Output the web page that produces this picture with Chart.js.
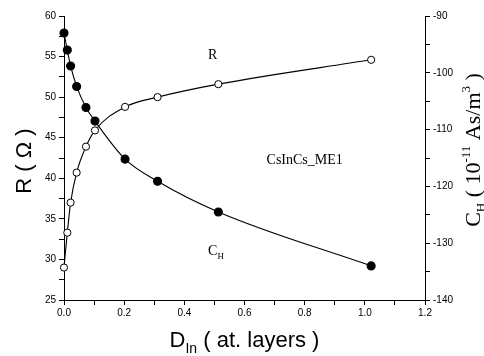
<!DOCTYPE html>
<html>
<head>
<meta charset="utf-8">
<script src="https://cdn.jsdelivr.net/npm/chart.js@4/dist/chart.umd.min.js"></script>
<style>
  html, body { margin: 0; padding: 0; background: #fff; }
  #wrap { width: 484px; height: 356px; }
</style>
</head>
<body>
<div id="wrap"><canvas id="chart" width="484" height="356"></canvas></div>
<script>
const dIn = [0, 0.011, 0.022, 0.042, 0.073, 0.103, 0.203, 0.311, 0.513, 1.021];
const rValues = [29.0, 33.3, 37.0, 40.7, 43.9, 45.9, 48.8, 50.0, 51.6, 54.6];
const cHValues = [-93.0, -96.0, -98.8, -102.4, -106.1, -108.5, -115.2, -119.1, -124.5, -134.0];

const xTicks = ['0.0', '0.2', '0.4', '0.6', '0.8', '1.0', '1.2'];
const rTicks = [25, 30, 35, 40, 45, 50, 55, 60];
const cTicks = [-140, -130, -120, -110, -100, -90];

const SANS = '"Liberation Sans", Arial, sans-serif';
const SERIF = '"Liberation Serif", "Times New Roman", serif';

const toXY = (ys) => dIn.map((x, i) => ({ x: x, y: ys[i] }));

// draws a row of text pieces (for sub/superscripts)
const drawRich = (ctx, parts, x, y, rotation, align) => {
  ctx.save();
  ctx.translate(x, y);
  ctx.rotate(rotation);
  let total = 0;
  parts.forEach((p) => {
    ctx.font = p.font;
    total += ctx.measureText(p.text).width;
  });
  let cx = align === 'center' ? -total / 2 : 0;
  ctx.fillStyle = '#000';
  ctx.textBaseline = 'alphabetic';
  ctx.textAlign = 'left';
  parts.forEach((p) => {
    ctx.font = p.font;
    ctx.fillText(p.text, cx, p.dy || 0);
    cx += ctx.measureText(p.text).width;
  });
  ctx.restore();
};

const labelsPlugin = {
  id: 'labels',
  afterDraw(chart) {
    const ctx = chart.ctx;
    const area = chart.chartArea;
    const xs = chart.scales.x;
    const ys = chart.scales.y;

    // axis titles
    drawRich(ctx, [
      { text: 'D', font: '22px ' + SANS },
      { text: 'In', font: '14px ' + SANS, dy: 6 },
      { text: ' ( at. layers )', font: '22px ' + SANS },
    ], (area.left + area.right) / 2, 347, 0, 'center');

    drawRich(ctx, [
      { text: 'R ( \u03A9 )', font: '22px ' + SANS },
    ], 31, (area.top + area.bottom) / 2 + 3, -Math.PI / 2, 'center');

    drawRich(ctx, [
      { text: 'C', font: '22px ' + SERIF },
      { text: 'H', font: '13px ' + SERIF, dy: 5 },
      { text: ' ( 10', font: '22px ' + SERIF },
      { text: '-11', font: '13px ' + SERIF, dy: -10 },
      { text: ' As/m', font: '22px ' + SERIF },
      { text: '3', font: '13px ' + SERIF, dy: -10 },
      { text: ' )', font: '22px ' + SERIF },
    ], 480, 150, -Math.PI / 2, 'center');

    // annotations
    const at = (x, y) => [xs.getPixelForValue(x), ys.getPixelForValue(y)];
    let p = at(0.479, 54.7);
    drawRich(ctx, [{ text: 'R', font: '14px ' + SERIF }], p[0], p[1], 0, 'left');
    p = at(0.80, 41.7);
    drawRich(ctx, [{ text: 'CsInCs_ME1', font: '14px ' + SERIF }], p[0], p[1], 0, 'center');
    p = at(0.479, 30.6);
    drawRich(ctx, [
      { text: 'C', font: '14px ' + SERIF },
      { text: 'H', font: '9px ' + SERIF, dy: 4 },
    ], p[0], p[1], 0, 'left');
  },
};

const axisGrid = {
  drawOnChartArea: false,
  drawTicks: true,
  tickLength: 5,
  tickColor: '#000',
  tickWidth: 1,
};
const axisBorder = { display: true, color: '#000', width: 1 };
const tickFont = { family: SANS, size: 10 };

const config = {
  type: 'line',
  data: {
    datasets: [
      {
        label: 'R',
        data: toXY(rValues),
        yAxisID: 'y',
        borderColor: '#000',
        borderWidth: 1.1,
        pointRadius: 3.6,
        pointBorderWidth: 1,
        pointBackgroundColor: '#fff',
        pointBorderColor: '#000',
        cubicInterpolationMode: 'monotone',
        clip: false,
      },
      {
        // centre dots of the open circles
        label: 'R dots',
        data: toXY(rValues),
        yAxisID: 'y',
        showLine: false,
        pointRadius: 0.9,
        pointBorderWidth: 0,
        pointBackgroundColor: '#000',
        clip: false,
      },
      {
        label: 'CH',
        data: toXY(cHValues),
        yAxisID: 'y1',
        borderColor: '#000',
        borderWidth: 1.1,
        pointBackgroundColor: '#000',
        pointBorderColor: '#000',
        pointRadius: 4,
        cubicInterpolationMode: 'monotone',
        clip: false,
      },
    ],
  },
  options: {
    responsive: false,
    animation: false,
    events: [],
    layout: { padding: { top: 16, right: 0, left: 0, bottom: 0 } },
    plugins: { legend: { display: false }, tooltip: { enabled: false } },
    scales: {
      x: {
        type: 'linear',
        min: 0,
        max: 1.2,
        grid: axisGrid,
        border: axisBorder,
        ticks: {
          stepSize: 0.1,
          autoSkip: false,
          maxRotation: 0,
          padding: 2,
          color: '#000',
          font: tickFont,
          callback: (v, i) => (i % 2 === 0 ? xTicks[i / 2] : ''),
        },
        afterFit: (s) => { s.height = 56; },
      },
      y: {
        type: 'linear',
        position: 'left',
        min: 25,
        max: 60,
        grid: axisGrid,
        border: axisBorder,
        ticks: {
          stepSize: 2.5,
          autoSkip: false,
          padding: 3,
          color: '#000',
          font: tickFont,
          callback: (v, i) => (i % 2 === 0 ? String(rTicks[i / 2]) : ''),
        },
        afterFit: (s) => { s.width = 64; },
      },
      y1: {
        type: 'linear',
        position: 'right',
        min: -140,
        max: -90,
        grid: axisGrid,
        border: axisBorder,
        ticks: {
          stepSize: 5,
          autoSkip: false,
          padding: 3,
          color: '#000',
          font: tickFont,
          callback: (v, i) => (i % 2 === 0 ? String(cTicks[i / 2]) : ''),
        },
        afterFit: (s) => { s.width = 59; },
      },
    },
  },
  plugins: [labelsPlugin],
};

new Chart(document.getElementById('chart'), config);
</script>
</body>
</html>
